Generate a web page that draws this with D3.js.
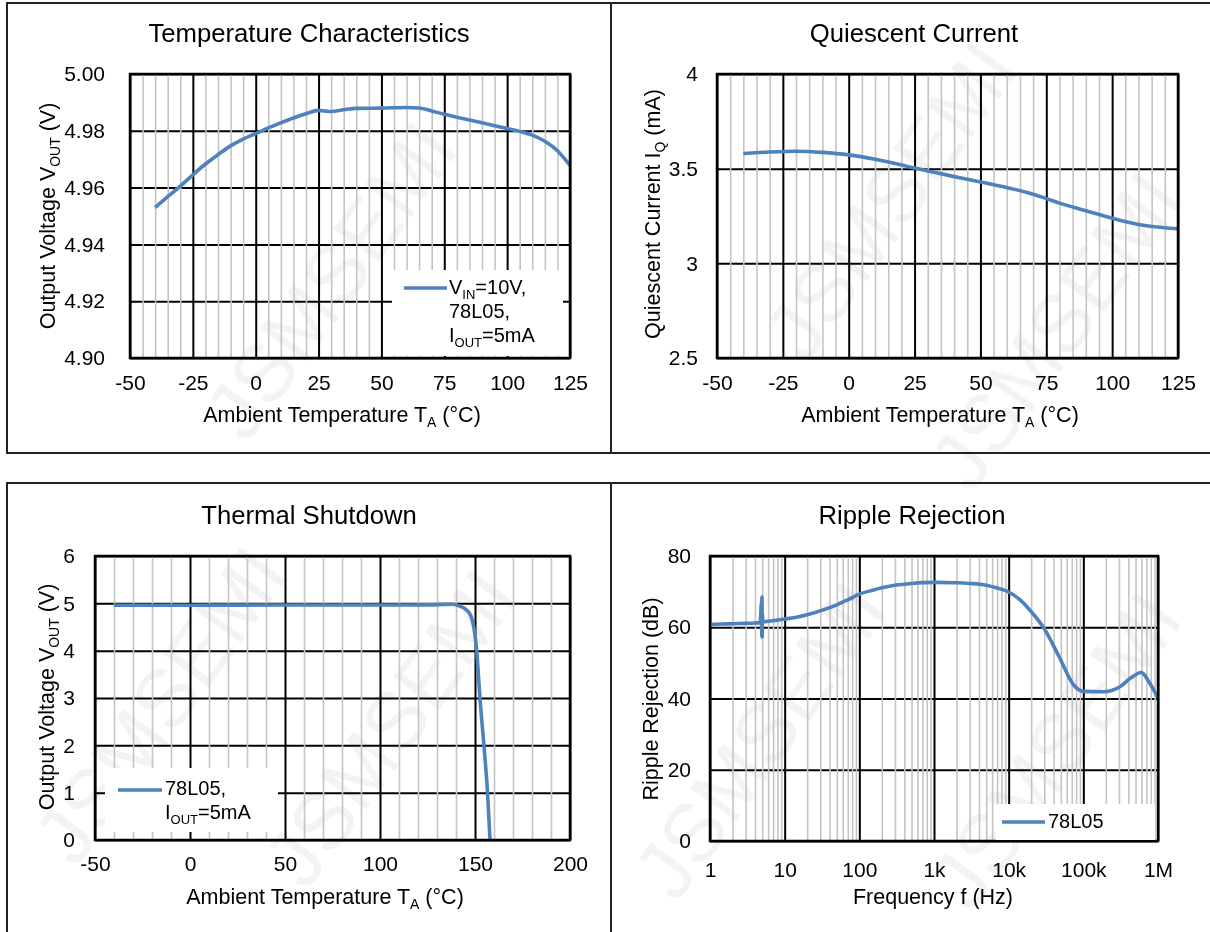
<!DOCTYPE html>
<html>
<head>
<meta charset="utf-8">
<script src="https://cdn.jsdelivr.net/npm/d3@7"></script>
<style>
  body { margin: 0; background: #fff; }
  svg { display: block; }
  text { font-family: "Liberation Sans", Arial, sans-serif; }
</style>
</head>
<body>
<svg width="1210" height="932"></svg>
<script>
// ---- data ----
const tempT = [-40, -35, -30, -25, -20, -15, -10, -5, 0, 5, 10, 15, 20, 25, 30, 35, 40, 50, 60, 65, 70, 75, 80, 90, 100, 105, 110, 115, 120, 125];
const tempV = [4.953, 4.9568, 4.9605, 4.9645, 4.9683, 4.9716, 4.9747, 4.9771, 4.979, 4.981, 4.9828, 4.9845, 4.986, 4.9872, 4.9868, 4.9874, 4.9879, 4.988, 4.9882, 4.988, 4.987, 4.9858, 4.9848, 4.9828, 4.9808, 4.9798, 4.9785, 4.9763, 4.973, 4.9678];

const iqT = [-40, -30, -20, -10, 0, 10, 20, 25, 30, 40, 50, 60, 70, 75, 80, 90, 100, 110, 120, 125];
const iqI = [3.58, 3.588, 3.592, 3.586, 3.573, 3.55, 3.52, 3.503, 3.488, 3.458, 3.43, 3.40, 3.365, 3.342, 3.318, 3.278, 3.238, 3.205, 3.188, 3.182];

const tsdT = [-40, 0, 50, 100, 125, 133, 138, 142, 145.5, 148, 149.5, 150.9, 152.6, 154.7, 156.6, 157.9];
const tsdV = [4.96, 4.96, 4.965, 4.965, 4.968, 4.975, 4.98, 4.94, 4.86, 4.72, 4.47, 4.0, 3.0, 2.0, 1.0, 0];

const rrF = [1, 1.5, 2, 3, 4, 4.7, 4.9, 4.94, 4.97, 5.0, 5.03, 5.1, 6, 8, 10, 15, 20, 30, 50, 70, 100, 150, 200, 300, 500, 1000, 2000, 3000, 5000, 7000, 10000, 14000, 20000, 30000, 48000, 73000, 100000, 184000, 310000, 440000, 600000, 740000, 1000000];
const rrDB = [60.8, 60.9, 61.0, 61.1, 61.2, 61.3, 67, 57.5, 68.5, 57.2, 64, 61.5, 61.7, 62, 62.3, 62.9, 63.5, 64.6, 66.3, 67.7, 69.3, 70.4, 71.1, 71.8, 72.3, 72.6, 72.5, 72.3, 71.8, 71.0, 69.9, 67.8, 64.4, 59.6, 51.5, 44, 42, 41.9, 43.3, 45.9, 47.3, 45, 40.1];

// ---- ticks ----
const tempTicks = [-50, -25, 0, 25, 50, 75, 100, 125];
const voutTicks = [4.90, 4.92, 4.94, 4.96, 4.98, 5.00];
const iqTicks = [2.5, 3, 3.5, 4];
const tsdTicks = [-50, 0, 50, 100, 150, 200];
const tsdVTicks = [0, 1, 2, 3, 4, 5, 6];
const freqTicks = [1, 10, 100, 1e3, 1e4, 1e5, 1e6];
const freqLabels = ["1", "10", "100", "1k", "10k", "100k", "1M"];
const rrTicks = [0, 20, 40, 60, 80];

const lineColor = "#4f81bd";
const FS = 21;     // tick labels
const AFS = 21.5;  // axis titles
const LFS = 20;    // legend
const plain = d => String(d);

let svg = d3.select("svg");
svg.append("rect").attr("width", 1210).attr("height", 932).attr("fill", "#fff");

// panel borders
svg.append("rect").attr("x", 7).attr("y", 3).attr("width", 1215).attr("height", 450)
  .attr("fill", "none").attr("stroke", "#222").attr("stroke-width", 2);
svg.append("rect").attr("x", 7).attr("y", 483).attr("width", 1215).attr("height", 500)
  .attr("fill", "none").attr("stroke", "#222").attr("stroke-width", 2);
svg.append("line").attr("x1", 611).attr("x2", 611).attr("y1", 3).attr("y2", 453)
  .attr("stroke", "#222").attr("stroke-width", 2);
svg.append("line").attr("x1", 611).attr("x2", 611).attr("y1", 483).attr("y2", 932)
  .attr("stroke", "#222").attr("stroke-width", 2);

// faint watermark, behind the charts
const marks = [[330, 280], [890, 200], [1055, 330], [160, 705], [390, 728], [760, 740], [1055, 750]];
let wm = svg.append("g").attr("pointer-events", "none").attr("opacity", 0.05);
marks.forEach(m => {
  wm.append("text").attr("transform", "translate(" + m[0] + "," + m[1] + ") rotate(-54)")
    .attr("text-anchor", "middle").attr("dy", "0.35em").attr("font-size", 82).attr("fill", "#000")
    .text("JSMSEMI");
});

// text with subscripts: parts = [[text, isSub], ...]
function richText(t, parts, fs) {
  let shift = fs * 0.25;
  parts.forEach((p, i) => {
    let ts = t.append("tspan").text(p[0]);
    if (p[1]) ts.attr("font-size", fs * 0.65).attr("dy", shift);
    else if (i > 0 && parts[i - 1][1]) ts.attr("dy", -shift);
  });
  return t;
}

function linearMinor(lo, hi, step, major) {
  return d3.range(lo, hi + 0.001, step).filter(v => !major.some(m => Math.abs(m - v) < 1e-9));
}

function drawPanel(p) {
  let w = p.box[2] - p.box[0], h = p.box[3] - p.box[1];
  let x = (p.log ? d3.scaleLog() : d3.scaleLinear()).domain(p.xDomain).range([0, w]);
  let y = d3.scaleLinear().domain(p.yDomain).range([h, 0]);
  let g = svg.append("g").attr("transform", "translate(" + p.box[0] + "," + p.box[1] + ")");

  // horizontal major grid
  g.append("g")
    .call(d3.axisLeft(y).tickValues(p.yTicks).tickSize(-w).tickFormat(""))
    .call(a => a.select(".domain").remove())
    .selectAll("line").attr("stroke", "#000").attr("stroke-width", 2);

  // minor vertical grid
  g.append("g").attr("transform", "translate(0," + h + ")")
    .call(d3.axisBottom(x).tickValues(p.xMinor).tickSize(-h).tickFormat(""))
    .call(a => a.select(".domain").remove())
    .selectAll("line").attr("stroke", "#c4c4c4").attr("stroke-width", 1.6);

  // major vertical grid
  g.append("g").attr("transform", "translate(0," + h + ")")
    .call(d3.axisBottom(x).tickValues(p.xTicks).tickSize(-h).tickFormat(""))
    .call(a => a.select(".domain").remove())
    .selectAll("line").attr("stroke", "#000").attr("stroke-width", 2);

  // curve
  let pts = p.xs.map((v, i) => [v, p.ys[i]]);
  g.append("path")
    .datum(pts)
    .attr("fill", "none")
    .attr("stroke", lineColor)
    .attr("stroke-width", 3.6)
    .attr("stroke-linejoin", "round")
    .attr("d", d3.line().x(d => x(d[0])).y(d => y(d[1])).curve(d3.curveMonotoneX));

  // legend
  let lg = p.legend;
  if (lg) {
    svg.append("rect").attr("x", lg.box[0]).attr("y", lg.box[1]).attr("width", lg.box[2]).attr("height", lg.box[3]).attr("fill", "#fff");
    svg.append("line").attr("x1", lg.line[0]).attr("x2", lg.line[1]).attr("y1", lg.line[2]).attr("y2", lg.line[2])
      .attr("stroke", lineColor).attr("stroke-width", 3.6);
    lg.rows.forEach((r, i) => {
      let t = svg.append("text").attr("x", lg.tx).attr("y", lg.ty[i]).attr("dy", "0.35em").attr("font-size", LFS).attr("fill", "#000");
      richText(t, r, LFS);
    });
  }

  // frame
  g.append("rect").attr("width", w).attr("height", h).attr("fill", "none").attr("stroke", "#000").attr("stroke-width", 2.5);

  // tick labels
  let ya = g.append("g")
    .call(d3.axisLeft(y).tickValues(p.yTicks).tickSize(0).tickPadding(p.yPad).tickFormat(p.yFormat));
  ya.select(".domain").remove();
  ya.attr("font-size", FS).attr("font-family", null).attr("color", "#000");

  let xa = g.append("g").attr("transform", "translate(0," + h + ")")
    .call(d3.axisBottom(x).tickValues(p.xTicks).tickSize(0).tickPadding(p.xPad).tickFormat(p.xFormat));
  xa.select(".domain").remove();
  xa.attr("font-size", FS).attr("font-family", null).attr("color", "#000");

  // titles
  svg.append("text").attr("x", p.title[1]).attr("y", p.title[2]).attr("dy", "0.35em")
    .attr("text-anchor", "middle").attr("font-size", 25.7).text(p.title[0]);
  richText(svg.append("text").attr("x", p.xTitle[0]).attr("y", p.xTitle[1]).attr("dy", "0.35em")
    .attr("text-anchor", "middle").attr("font-size", AFS), p.xTitle[2], AFS);
  richText(svg.append("text").attr("transform", "translate(" + p.yTitle[0] + "," + p.yTitle[1] + ") rotate(-90)")
    .attr("dy", "0.35em").attr("text-anchor", "middle").attr("font-size", AFS), p.yTitle[2], AFS);
}

const tempAxisTitle = [["Ambient Temperature T", false], ["A", true], [" (°C)", false]];

drawPanel({
  box: [130, 74, 570, 358],
  xDomain: [-50, 125], xTicks: tempTicks, xMinor: linearMinor(-50, 125, 5, tempTicks), xFormat: plain,
  yDomain: [4.90, 5.00], yTicks: voutTicks, yFormat: d3.format(".2f"),
  xs: tempT, ys: tempV, yPad: 25, xPad: 17,
  title: ["Temperature Characteristics", 309, 33],
  xTitle: [342, 414, tempAxisTitle],
  yTitle: [47, 216, [["Output Voltage V", false], ["OUT", true], [" (V)", false]]],
  legend: {
    box: [392, 270, 171, 86], line: [404, 447, 288], tx: 449, ty: [287, 311, 335],
    rows: [[["V", false], ["IN", true], ["=10V,", false]], [["78L05,", false]], [["I", false], ["OUT", true], ["=5mA", false]]]
  }
});

drawPanel({
  box: [717, 74, 1178, 358],
  xDomain: [-50, 125], xTicks: tempTicks, xMinor: linearMinor(-50, 125, 5, tempTicks), xFormat: plain,
  yDomain: [2.5, 4], yTicks: iqTicks, yFormat: plain,
  xs: iqT, ys: iqI, yPad: 19, xPad: 17,
  title: ["Quiescent Current", 914, 33],
  xTitle: [940, 414, tempAxisTitle],
  yTitle: [652, 214, [["Quiescent Current I", false], ["Q", true], [" (mA)", false]]],
  legend: null
});

drawPanel({
  box: [95, 556, 570, 840],
  xDomain: [-50, 200], xTicks: tsdTicks, xMinor: linearMinor(-50, 200, 10, tsdTicks), xFormat: plain,
  yDomain: [0, 6], yTicks: tsdVTicks, yFormat: plain,
  xs: tsdT, ys: tsdV, yPad: 20, xPad: 16,
  title: ["Thermal Shutdown", 309, 515],
  xTitle: [325, 896, tempAxisTitle],
  yTitle: [46, 697, [["Output Voltage V", false], ["OUT", true], [" (V)", false]]],
  legend: {
    box: [105, 768, 173, 64], line: [118, 162, 790], tx: 165, ty: [788, 812],
    rows: [[["78L05,", false]], [["I", false], ["OUT", true], ["=5mA", false]]]
  }
});

let logMinor = [];
freqTicks.slice(0, -1).forEach(d => d3.range(2, 10).forEach(k => logMinor.push(d * k)));

drawPanel({
  box: [710, 556, 1158, 841], log: true,
  xDomain: [1, 1e6], xTicks: freqTicks, xMinor: logMinor, xFormat: (d, i) => freqLabels[i],
  yDomain: [0, 80], yTicks: rrTicks, yFormat: plain,
  xs: rrF, ys: rrDB, yPad: 19, xPad: 21,
  title: ["Ripple Rejection", 912, 515],
  xTitle: [933, 896, [["Frequency f (Hz)", false]]],
  yTitle: [650, 699, [["Ripple Rejection (dB)", false]]],
  legend: {
    box: [996, 804, 159, 36], line: [1002, 1045, 822], tx: 1048, ty: [821],
    rows: [[["78L05", false]]]
  }
});
</script>
</body>
</html>
